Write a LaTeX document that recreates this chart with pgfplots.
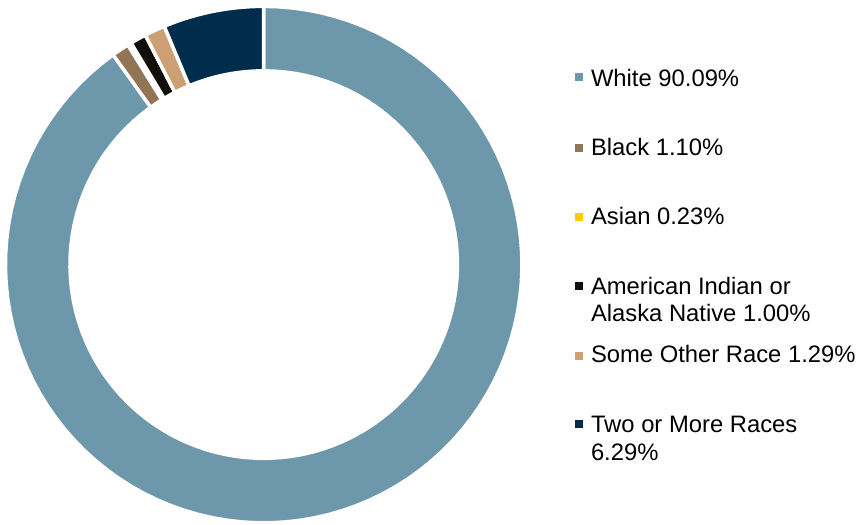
\documentclass[border=0pt]{standalone}
\usepackage{pgfplots}
\pgfplotsset{compat=1.18}
\usepackage{fontspec}
\setmainfont{Liberation Sans}
\definecolor{cWhite}{HTML}{6D98AB}
\definecolor{cBlack}{HTML}{917556}
\definecolor{cAsian}{HTML}{FFCC00}
\definecolor{cAmInd}{HTML}{120E0A}
\definecolor{cOther}{HTML}{CDA073}
\definecolor{cTwo}{HTML}{002D4B}
\tikzset{legtext/.style={anchor=base west, inner sep=0pt, outer sep=0pt, font=\fontsize{23.8bp}{27.5bp}\selectfont, text=black}}
% donut slice: #1 = cumulative start (%), #2 = share (%), #3 = colour
\newcommand{\slice}[3]{%
  \addplot[fill=#3, draw=white, line width=3.5bp, domain=0:3, samples=301, variable=\t]
  ({263.7+(258.25-64.5*min(max(\t-1,0),1))*cos(90-3.6*(#1+#2*(min(\t,1)-max(\t-2,0))))},
   {258.4+(258.25-64.5*min(max(\t-1,0),1))*sin(90-3.6*(#1+#2*(min(\t,1)-max(\t-2,0))))}) -- cycle;}
\newcommand{\legmark}[3]{%
  \addplot[only marks, mark=square*, mark size=3.35bp, mark options={fill=#3, draw=#3, line width=0pt}] coordinates {(#1,#2)};}
\begin{document}
\begin{tikzpicture}
\begin{axis}[
  width=859bp, height=523bp, scale only axis,
  xmin=0, xmax=859, ymin=0, ymax=523,
  hide axis, clip=false,
]
\path (axis cs:0,0) rectangle (axis cs:859,523);
\slice{0}{90.09}{cWhite}
\slice{90.09}{1.10}{cBlack}
\slice{91.19}{0.23}{cAsian}
\slice{91.42}{1.00}{cAmInd}
\slice{92.42}{1.29}{cOther}
\slice{93.71}{6.29}{cTwo}

\legmark{579.3}{445.7}{cWhite}
\legmark{579.3}{374.7}{cBlack}
\legmark{579.3}{306.3}{cAsian}
\legmark{579.3}{237}{cAmInd}
\legmark{579.3}{166.7}{cOther}
\legmark{579.3}{99}{cTwo}

\node[legtext] at (axis cs:591,436.3) {White 90.09\%};
\node[legtext] at (axis cs:591,367) {Black 1.10\%};
\node[legtext] at (axis cs:591,298) {Asian 0.23\%};
\node[legtext] at (axis cs:591,229) {American Indian or};
\node[legtext] at (axis cs:591,201.3) {Alaska Native 1.00\%};
\node[legtext] at (axis cs:591,160.3) {Some Other Race 1.29\%};
\node[legtext] at (axis cs:591,90.3) {Two or More Races};
\node[legtext] at (axis cs:591,63) {6.29\%};
\end{axis}
\end{tikzpicture}
\end{document}
